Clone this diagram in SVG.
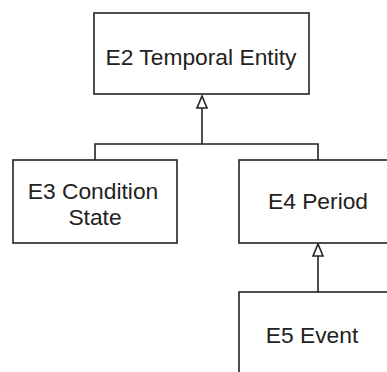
<svg xmlns="http://www.w3.org/2000/svg" width="387" height="372" viewBox="0 0 387 372">
<style>
.box{fill:#fff;stroke:#222;stroke-width:1.6}
.lbl{font-family:"Liberation Sans",Arial,sans-serif;font-size:22.8px;fill:#222;text-anchor:middle}
.con{fill:none;stroke:#222;stroke-width:1.6}
.head{fill:#fff;stroke:#222;stroke-width:1.6}
</style>
<rect width="387" height="372" fill="#fff"/>
<g id="connectors">
<polyline class="con" points="95,160 95,144 318,144 318,160"/>
<line class="con" x1="202" y1="144" x2="202" y2="108"/>
<polygon class="head" points="202,96 197,108 207,108"/>
<line class="con" x1="318" y1="292" x2="318" y2="256"/>
<polygon class="head" points="318,244 313,256 323,256"/>
</g>
<g id="e2">
<rect class="box" x="94" y="13" width="215" height="81"/>
<text class="lbl" x="201" y="65">E2 Temporal Entity</text>
</g>
<g id="e3">
<rect class="box" x="13" y="160" width="164" height="83"/>
<text class="lbl" x="93" y="199">E3 Condition</text>
<text class="lbl" x="95" y="225">State</text>
</g>
<g id="e4">
<rect class="box" x="239" y="160" width="158" height="83"/>
<text class="lbl" x="318" y="209">E4 Period</text>
</g>
<g id="e5">
<rect class="box" x="239" y="292" width="158" height="90"/>
<text class="lbl" x="312" y="343">E5 Event</text>
</g>
</svg>
